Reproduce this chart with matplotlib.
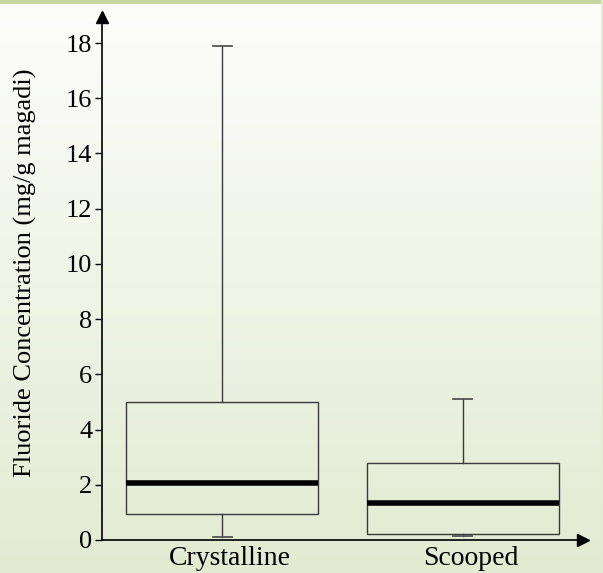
import matplotlib
matplotlib.use("Agg")
import matplotlib.pyplot as plt
import matplotlib.transforms as mtransforms
import numpy as np
from matplotlib.colors import LinearSegmentedColormap

# box statistics (mg/g magadi)
groups = ["Crystalline", "Scooped"]
q1 = [0.95, 0.20]
medians = [2.05, 1.35]
q3 = [5.0, 2.8]
whisker_low = [0.12, 0.15]
whisker_high = [17.9, 5.1]
yticks = [0, 2, 4, 6, 8, 10, 12, 14, 16, 18]

plt.rcParams['font.family'] = ['Liberation Serif', 'DejaVu Serif']

fig = plt.figure(figsize=(6.03, 5.73), dpi=100)

# background gradient: near white at the top, pale green at the bottom
bg = fig.add_axes([0, 0, 1, 1], zorder=-10)
grad = np.linspace(0, 1, 256).reshape(-1, 1)
cmap = LinearSegmentedColormap.from_list("bg", ["#fdfdfb", "#e2ebd2"])
bg.imshow(grad, aspect="auto", cmap=cmap, extent=[0, 1, 0, 1], origin="upper")
bg.set_axis_off()
# frame lines at the top and right edge
fig.add_artist(plt.Line2D([0, 1], [0.9965, 0.9965], color="#c5d8a2", lw=3,
                          transform=fig.transFigure))
fig.add_artist(plt.Line2D([0.9985, 0.9985], [0, 1], color="#e3ebd2", lw=2,
                          transform=fig.transFigure))

ax = fig.add_axes([0.169, 0.0576, 0.798, 0.913])
ax.patch.set_alpha(0)

stats = []
for i, name in enumerate(groups):
    stats.append({
        "label": name,
        "q1": q1[i], "med": medians[i], "q3": q3[i],
        "whislo": whisker_low[i], "whishi": whisker_high[i],
        "fliers": [],
    })

ax.bxp(stats, positions=[1, 2], widths=0.8, showfliers=False,
       patch_artist=True,
       boxprops=dict(facecolor="none", edgecolor="#3a3a3a", linewidth=1.0),
       medianprops=dict(color="black", linewidth=4, solid_capstyle="butt"),
       whiskerprops=dict(color="#3a3a3a", linewidth=1.0),
       capprops=dict(color="#555555", linewidth=1.3),
       capwidths=0.08)

ax.set_xlim(0.5, 2.5)
ax.set_ylim(0, 18.95)
ax.set_yticks(yticks)
ax.tick_params(axis="y", direction="out", length=5, width=1, labelsize=19, pad=2)
ax.tick_params(axis="x", length=0, labelsize=20, pad=4)

# category labels sit a little right of the box centres in the original
shift = mtransforms.ScaledTranslation(8 / 100, 0, fig.dpi_scale_trans)
for lbl in ax.get_xticklabels():
    lbl.set_transform(lbl.get_transform() + shift)

for side in ["top", "right"]:
    ax.spines[side].set_visible(False)
ax.spines["left"].set_linewidth(1.2)
ax.spines["bottom"].set_linewidth(1.2)

# arrow heads on the axes
ax.plot(1, 0, ">k", markersize=8, transform=ax.transAxes, clip_on=False)
ax.plot(0, 1, "^k", markersize=8, transform=ax.transAxes, clip_on=False)

ax.set_ylabel("Fluoride Concentration (mg/g magadi)", fontsize=19)
ax.yaxis.set_label_coords(-0.135, 0.51)

fig.savefig("out.png", dpi=100)
